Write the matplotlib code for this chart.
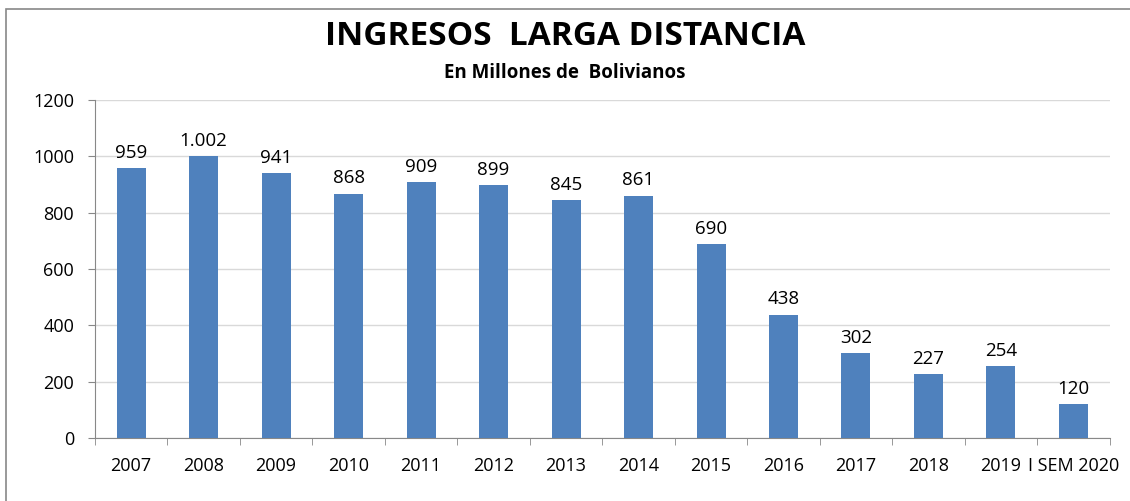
import numpy as np
import matplotlib.pyplot as plt
from matplotlib.patches import Rectangle

years = ['2007', '2008', '2009', '2010', '2011', '2012', '2013', '2014',
         '2015', '2016', '2017', '2018', '2019', 'I SEM 2020']
ingresos = [959, 1002, 941, 868, 909, 899, 845, 861, 690, 438, 302, 227, 254, 120]
etiquetas = ['959', '1.002', '941', '868', '909', '899', '845', '861',
             '690', '438', '302', '227', '254', '120']

plt.rcParams['font.family'] = ['Open Sans', 'DejaVu Sans']

fig = plt.figure(figsize=(11.3, 5.01), dpi=100)
fig.patches.append(Rectangle((0.005, -0.01), 1.1, 0.992, transform=fig.transFigure,
                             fill=False, edgecolor='#888888', linewidth=1.2))

ax = fig.add_axes([0.084, 0.126, 0.898, 0.674])
x = np.arange(len(years))
ax.bar(x, ingresos, width=0.4, color='#4F81BD', zorder=3)

for xi, v, t in zip(x, ingresos, etiquetas):
    ax.text(xi, v + 22, t, ha='center', va='bottom', fontsize=13.5)

ax.set_xlim(-0.5, len(years) - 0.5)
ax.set_ylim(0, 1200)
ax.set_yticks(range(0, 1201, 200))
ax.tick_params(axis='y', labelsize=13, length=5, color='#888888', pad=10)
ax.set_xticks(x)
ax.set_xticklabels(years)
ax.set_xticks(np.arange(-0.5, len(years), 1), minor=True)
ax.tick_params(axis='x', which='major', length=0, labelsize=13, pad=14)
ax.tick_params(axis='x', which='minor', length=5, color='#888888')
ax.grid(axis='y', color='#D9D9D9', linewidth=1, zorder=0)

for s in ['top', 'right']:
    ax.spines[s].set_visible(False)
for s in ['left', 'bottom']:
    ax.spines[s].set_color('#888888')

fig.text(0.5, 0.928, 'INGRESOS  LARGA DISTANCIA', ha='center', va='center',
         fontsize=24, fontweight='bold')
fig.text(0.5, 0.855, 'En Millones de  Bolivianos', ha='center', va='center',
         fontsize=13.5, fontweight='bold')

fig.savefig('out.png', dpi=100)
